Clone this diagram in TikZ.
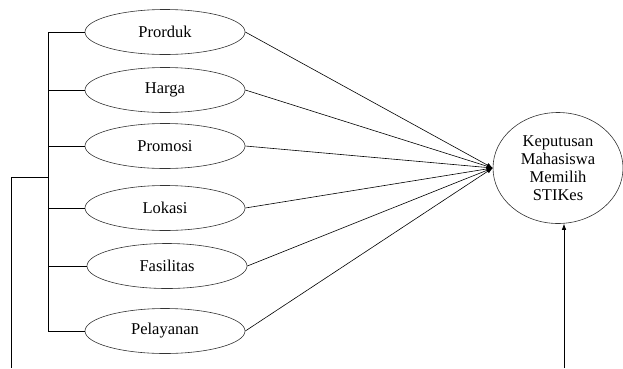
\documentclass[tikz,border=0pt]{standalone}
\usepackage{fontspec}
\setmainfont{Liberation Serif}
\usetikzlibrary{shapes.geometric,arrows.meta}
\begin{document}
\begin{tikzpicture}[x=1bp,y=-1bp,
  var/.style={draw=black!80,line width=0.6bp,ellipse,minimum width=160bp,minimum height=45bp,inner sep=0pt,font=\fontsize{16.5bp}{18bp}\selectfont},
  big/.style={draw=black!80,line width=0.6bp,ellipse,minimum width=130bp,minimum height=111bp,inner sep=0pt,align=center,font=\fontsize{16.5bp}{18bp}\selectfont},
  ln/.style={line width=0.6bp,black},
  arr/.style={line width=0.6bp,black,-{Latex[length=6bp,width=4.5bp]}}]
\useasboundingbox (0,0) rectangle (623,368);
\node[var] (p1) at (165,32) {Prorduk};
\node[var] (p2) at (165,90) {Harga};
\node[var] (p3) at (165,146) {Promosi};
\node[var] (p4) at (165,208) {Lokasi};
\node[var] (p5) at (167,266) {Fasilitas};
\node[var] (p6) at (165,331) {Pelayanan};
\node[big] (kep) at (558,168) {Keputusan\\Mahasiswa\\Memilih\\STIKes};
\coordinate (sp) at (48,0);
\coordinate (br) at (48,177);
\coordinate (bl) at (11,177);
\coordinate (bb) at (11,368);
\coordinate (va) at (564,368);
% left tree
\draw[ln] (p1.west) -- (p1.west -| sp) -- (p6.west -| sp) -- (p6.west);
\foreach \n in {p2,p3,p4,p5} \draw[ln] (\n.west) -- (\n.west -| sp);
\draw[ln] (br) -- (bl) -- (bb);
% arrows to decision
\foreach \n in {p1,p2,p3,p4,p5,p6} \draw[arr] (\n.east) -- (kep.west);
\draw[arr] (va) -- (va |- kep.south);
\end{tikzpicture}
\end{document}
